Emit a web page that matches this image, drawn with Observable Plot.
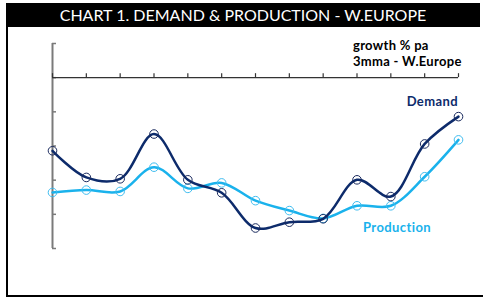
<!DOCTYPE html>
<html><head><meta charset="utf-8">
<script src="https://cdn.jsdelivr.net/npm/d3@7"></script>
<script src="https://cdn.jsdelivr.net/npm/@observablehq/plot@0.6"></script>
<style>
html,body{margin:0;padding:0;background:#fff;}
body{width:483px;height:298px;position:relative;overflow:hidden;font-family:Lato,"Open Sans",sans-serif;}
#frame{position:absolute;left:6px;top:3px;width:477px;height:294px;border-left:2px solid #000;border-bottom:2px solid #000;box-sizing:border-box;}
#title{position:absolute;left:6px;top:3px;width:474px;height:24px;background:#000;color:#fff;font-size:16px;line-height:24px;text-align:center;}
#chart{position:absolute;left:0;top:0;}
#unit{position:absolute;left:353px;top:37px;font-weight:bold;font-size:13px;letter-spacing:0.3px;line-height:16px;color:#000;white-space:nowrap;}
.lab{position:absolute;font-weight:bold;font-size:13px;letter-spacing:0.4px;line-height:14px;white-space:nowrap;}
#ldem{right:25px;top:94px;color:#0d2b6b;}
#lprod{left:363px;top:220px;color:#1ab2ec;}
</style></head><body>
<div id="frame"></div>
<div id="chart"></div>
<div id="title">CHART 1. DEMAND &amp; PRODUCTION - W.EUROPE</div>
<div id="unit">growth % pa<br>3mma - W.Europe</div>
<div class="lab" id="ldem">Demand</div>
<div class="lab" id="lprod">Production</div>
<script>
const periods = [0,1,2,3,4,5,6,7,8,9,10,11,12];
const demand = [-2.14,-2.92,-2.96,-1.65,-2.99,-3.37,-4.40,-4.23,-4.13,-2.99,-3.48,-1.94,-1.14];
const production = [-3.36,-3.29,-3.33,-2.62,-3.24,-3.08,-3.60,-3.89,-4.12,-3.75,-3.75,-2.90,-1.82];
const xTicks = [0,1,2,3,4,5,6,7,8,9,10,11,12];
const yTicks = [-5,-4,-3,-2,-1,0,1];

const demandColor = "#0d2b6b";
const prodColor = "#1ab2ec";

const rows = periods.map((p,i)=>({p, demand: demand[i], production: production[i]}));

const chart = Plot.plot({
  width: 483, height: 298,
  marginLeft: 52, marginRight: 25, marginTop: 43, marginBottom: 50,
  x: {domain: [0,12], axis: null},
  y: {domain: [-5,1], axis: null},
  style: {background: "transparent", overflow: "visible"},
  marks: [
    Plot.ruleX([0], {stroke: "#7a7a7a", strokeWidth: 2}),
    Plot.ruleY(yTicks, {y: d=>d, x1: 0, x2: 0, insetRight: -4, stroke: "#7a7a7a", strokeWidth: 1.5}),
    Plot.ruleY([0], {stroke: "#333", strokeWidth: 1.2}),
    Plot.ruleX(xTicks, {x: d=>d, y1: 0, y2: 0, insetTop: -4, stroke: "#333", strokeWidth: 1.2}),
    Plot.line(rows, {x: "p", y: "production", curve: "catmull-rom", stroke: prodColor, strokeWidth: 2.5}),
    Plot.dot(rows, {x: "p", y: "production", r: 4.3, stroke: "#3fbdf0", strokeWidth: 1, fill: "none"}),
    Plot.line(rows, {x: "p", y: "demand", curve: "catmull-rom", stroke: demandColor, strokeWidth: 2.5}),
    Plot.dot(rows, {x: "p", y: "demand", r: 4.3, stroke: "#1a2a5e", strokeWidth: 1, fill: "none"})
  ]
});
document.getElementById("chart").appendChild(chart);
</script>
</body></html>
